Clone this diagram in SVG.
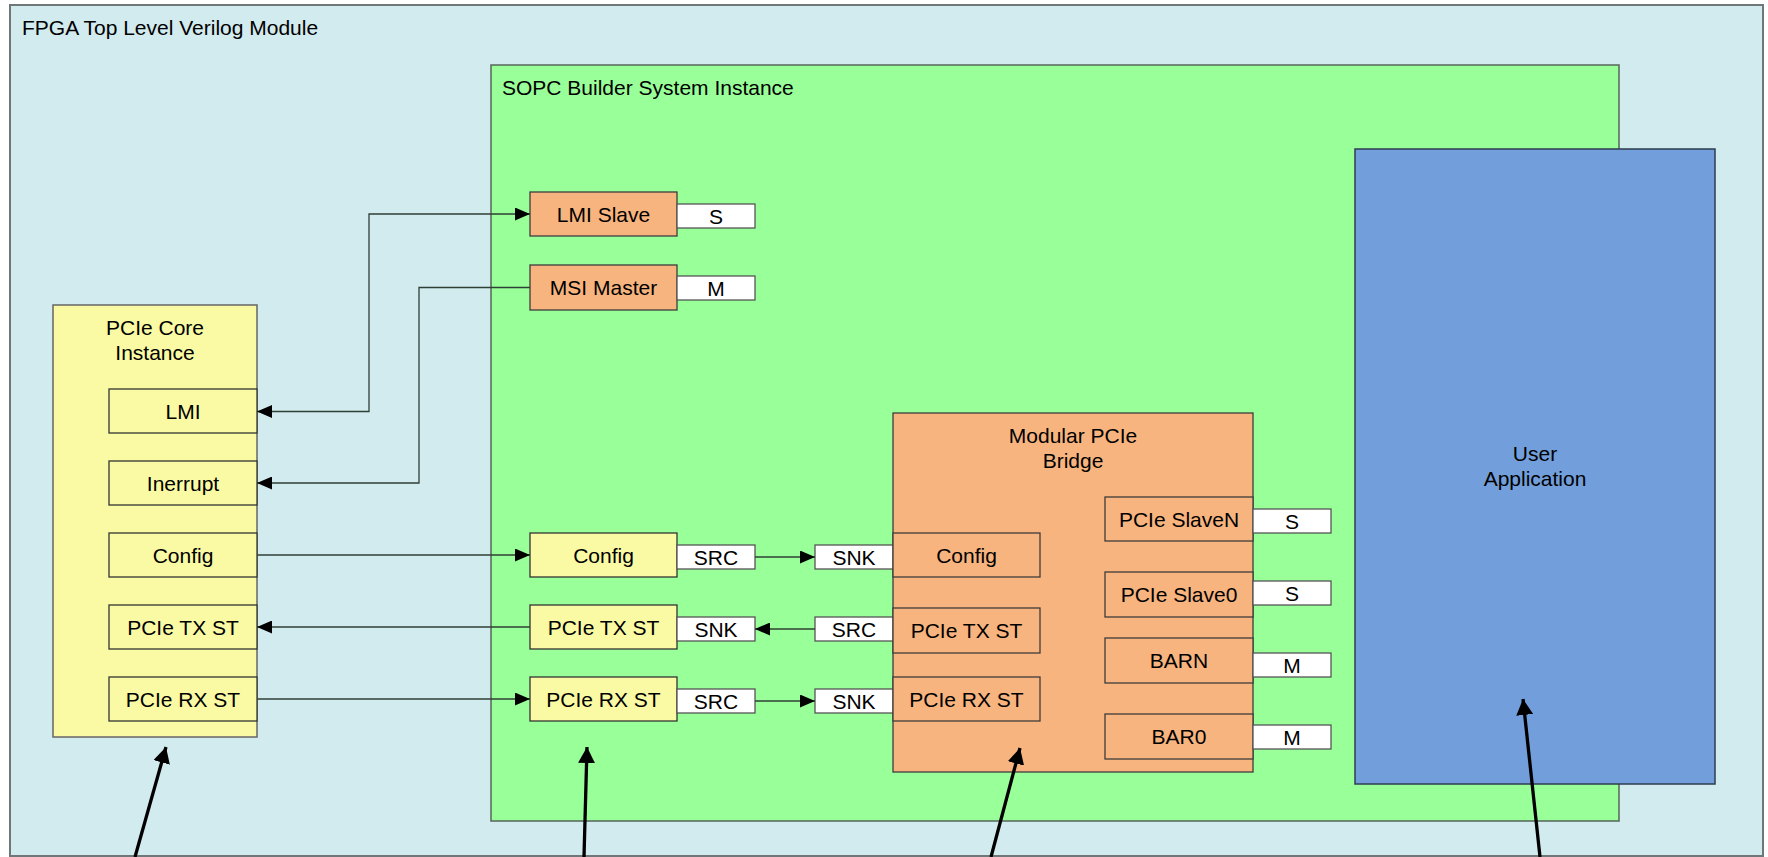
<svg xmlns="http://www.w3.org/2000/svg" width="1768" height="857" viewBox="0 0 1768 857">
<defs>
<style>
text { font-family: "Liberation Sans", Arial, sans-serif; font-size: 21px; fill: #000; }
.c { text-anchor: middle; }
.frame { fill: #d2ebef; stroke: #6f7779; stroke-width: 2; }
.sopc { fill: #99ff99; stroke: #55665a; stroke-width: 1.5; }
.app { fill: #729fdb; stroke: #2f3d52; stroke-width: 1.5; }
.core { fill: #fafaa4; stroke: #666; stroke-width: 1.5; }
.yb { fill: #fafaa4; stroke: #333; stroke-width: 1.3; }
.ob { fill: #f8b47e; stroke: #3c3c3c; stroke-width: 1.3; }
.port { fill: #fff; stroke: #555; stroke-width: 1.3; }
.wire { fill: none; stroke: #2f3f35; stroke-width: 1.3; }
.ptr { fill: none; stroke: #000; stroke-width: 3.3; }
</style>
<marker id="ah" markerUnits="userSpaceOnUse" markerWidth="15" markerHeight="13" refX="15" refY="6.5" orient="auto-start-reverse"><path d="M0,0 L15,6.5 L0,13 z" fill="#000"/></marker>
<marker id="ptrhead" markerUnits="userSpaceOnUse" markerWidth="16" markerHeight="17" refX="16" refY="8.5" orient="auto"><path d="M0,0 L16,8.5 L0,17 z" fill="#000"/></marker>
</defs>

<!-- top level module frame -->
<g id="fpga-top">
<rect class="frame" x="10" y="5" width="1753" height="851"/>
<text x="22" y="35">FPGA Top Level Verilog Module</text>
</g>

<!-- SOPC Builder system -->
<g id="sopc">
<rect class="sopc" x="491" y="65" width="1128" height="756"/>
<text x="502" y="95">SOPC Builder System Instance</text>
</g>

<g id="user-app">
<rect class="app" x="1355" y="149" width="360" height="635"/>
<text class="c" x="1535" y="461">User</text>
<text class="c" x="1535" y="486">Application</text>
</g>

<!-- PCIe hard core -->
<g id="pcie-core">
<rect class="core" x="53" y="305" width="204" height="432"/>
<text class="c" x="155" y="335">PCIe Core</text>
<text class="c" x="155" y="360">Instance</text>
</g>
<g id="core-lmi"><rect class="yb" x="109" y="389" width="148" height="44"/><text class="c" x="183" y="418.5">LMI</text></g>
<g id="core-irq"><rect class="yb" x="109" y="461" width="148" height="44"/><text class="c" x="183" y="490.5">Inerrupt</text></g>
<g id="core-config"><rect class="yb" x="109" y="533" width="148" height="44"/><text class="c" x="183" y="562.5">Config</text></g>
<g id="core-tx"><rect class="yb" x="109" y="605" width="148" height="44"/><text class="c" x="183" y="634.5">PCIe TX ST</text></g>
<g id="core-rx"><rect class="yb" x="109" y="677" width="148" height="44"/><text class="c" x="183" y="706.5">PCIe RX ST</text></g>

<!-- SOPC side components -->
<g id="lmi-slave"><rect class="ob" x="530" y="192" width="147" height="44"/><text class="c" x="603.5" y="221.5">LMI Slave</text>
<rect class="port" x="677" y="204" width="78" height="24"/><text class="c" x="716" y="223.5">S</text></g>
<g id="msi-master"><rect class="ob" x="530" y="265" width="147" height="45"/><text class="c" x="603.5" y="295">MSI Master</text>
<rect class="port" x="677" y="276" width="78" height="24"/><text class="c" x="716" y="295.5">M</text></g>

<g id="sopc-config"><rect class="yb" x="530" y="533" width="147" height="44"/><text class="c" x="603.5" y="562.5">Config</text>
<rect class="port" x="677" y="545" width="78" height="24"/><text class="c" x="716" y="564.5">SRC</text></g>
<g id="sopc-tx"><rect class="yb" x="530" y="605" width="147" height="44"/><text class="c" x="603.5" y="634.5">PCIe TX ST</text>
<rect class="port" x="677" y="617" width="78" height="24"/><text class="c" x="716" y="636.5">SNK</text></g>
<g id="sopc-rx"><rect class="yb" x="530" y="677" width="147" height="44"/><text class="c" x="603.5" y="706.5">PCIe RX ST</text>
<rect class="port" x="677" y="689" width="78" height="24"/><text class="c" x="716" y="708.5">SRC</text></g>

<!-- Modular PCIe bridge -->
<g id="bridge">
<rect class="ob" x="893" y="413" width="360" height="359"/>
<text class="c" x="1073" y="443">Modular PCIe</text>
<text class="c" x="1073" y="468">Bridge</text>
</g>
<g id="bridge-config"><rect class="port" x="815" y="545" width="78" height="24"/><text class="c" x="854" y="564.5">SNK</text>
<rect class="ob" x="893" y="533" width="147" height="44"/><text class="c" x="966.5" y="562.5">Config</text></g>
<g id="bridge-tx"><rect class="port" x="815" y="617" width="78" height="24"/><text class="c" x="854" y="636.5">SRC</text>
<rect class="ob" x="893" y="608" width="147" height="45"/><text class="c" x="966.5" y="638">PCIe TX ST</text></g>
<g id="bridge-rx"><rect class="port" x="815" y="689" width="78" height="24"/><text class="c" x="854" y="708.5">SNK</text>
<rect class="ob" x="893" y="677" width="147" height="44"/><text class="c" x="966.5" y="706.5">PCIe RX ST</text></g>

<g id="bridge-slaven"><rect class="ob" x="1105" y="497" width="148" height="44"/><text class="c" x="1179" y="526.5">PCIe SlaveN</text>
<rect class="port" x="1253" y="509" width="78" height="24"/><text class="c" x="1292" y="528.5">S</text></g>
<g id="bridge-slave0"><rect class="ob" x="1105" y="572" width="148" height="45"/><text class="c" x="1179" y="602">PCIe Slave0</text>
<rect class="port" x="1253" y="581" width="78" height="24"/><text class="c" x="1292" y="600.5">S</text></g>
<g id="bridge-barn"><rect class="ob" x="1105" y="638" width="148" height="45"/><text class="c" x="1179" y="668">BARN</text>
<rect class="port" x="1253" y="653" width="78" height="24"/><text class="c" x="1292" y="672.5">M</text></g>
<g id="bridge-bar0"><rect class="ob" x="1105" y="714" width="148" height="45"/><text class="c" x="1179" y="744">BAR0</text>
<rect class="port" x="1253" y="725" width="78" height="24"/><text class="c" x="1292" y="744.5">M</text></g>

<!-- signal connections -->
<g id="connectors">
<path class="wire" d="M257,411.5 H369 V214 H530" marker-start="url(#ah)" marker-end="url(#ah)"/>
<path class="wire" d="M530,287.5 H419 V483 H257" marker-end="url(#ah)"/>
<path class="wire" d="M257,555 H530" marker-end="url(#ah)"/>
<path class="wire" d="M530,627 H257" marker-end="url(#ah)"/>
<path class="wire" d="M257,699 H530" marker-end="url(#ah)"/>
<path class="wire" d="M755,557 H815" marker-end="url(#ah)"/>
<path class="wire" d="M815,629 H755" marker-end="url(#ah)"/>
<path class="wire" d="M755,701 H815" marker-end="url(#ah)"/>
</g>

<!-- pointer arrows from below -->
<g id="pointers">
<line class="ptr" x1="135" y1="857" x2="166" y2="747" marker-end="url(#ptrhead)"/>
<line class="ptr" x1="584" y1="857" x2="587" y2="747" marker-end="url(#ptrhead)"/>
<line class="ptr" x1="991" y1="857" x2="1020" y2="748" marker-end="url(#ptrhead)"/>
<line class="ptr" x1="1540" y1="857" x2="1523" y2="699" marker-end="url(#ptrhead)"/>
</g>
</svg>
